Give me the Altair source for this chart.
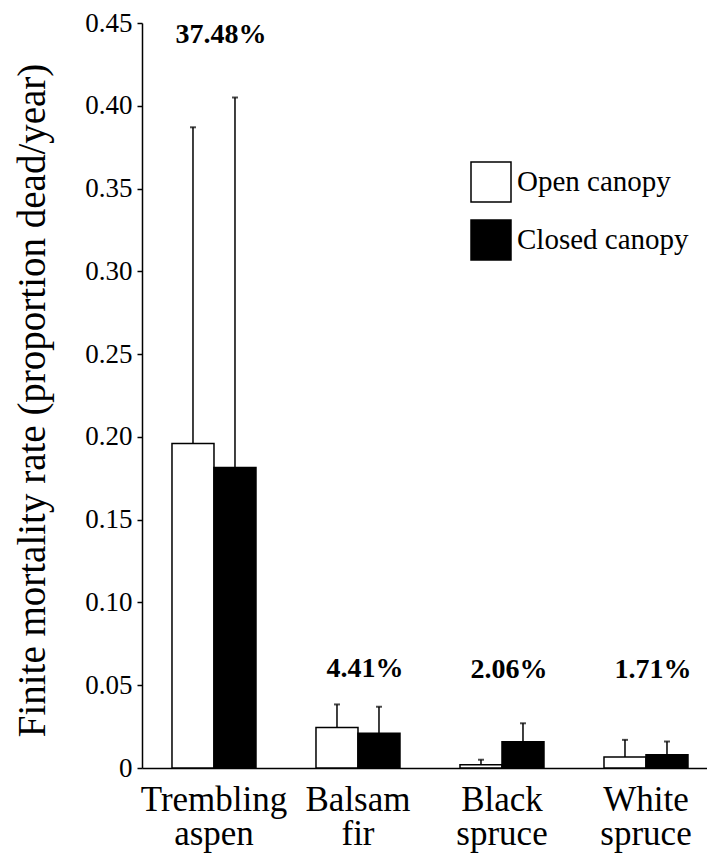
import altair as alt
import pandas as pd

species = ["Trembling aspen", "Balsam fir", "Black spruce", "White spruce"]
canopy = ["Open canopy", "Closed canopy"]

open_mean = [0.196, 0.0244, 0.002, 0.0067]
open_err = [0.387, 0.0384, 0.005, 0.017]
closed_mean = [0.1815, 0.021, 0.0158, 0.008]
closed_err = [0.405, 0.037, 0.027, 0.016]

pct_labels = ["37.48%", "4.41%", "2.06%", "1.71%"]
pct_label_y = [0.443, 0.060, 0.059, 0.059]

y_ticks = [0, 0.05, 0.10, 0.15, 0.20, 0.25, 0.30, 0.35, 0.40, 0.45]

rows = []
for i, s in enumerate(species):
    rows.append({"species": s, "canopy": canopy[0], "value": open_mean[i], "err": open_err[i]})
    rows.append({"species": s, "canopy": canopy[1], "value": closed_mean[i], "err": closed_err[i]})
df = pd.DataFrame(rows)
lab = pd.DataFrame({"species": species, "label": pct_labels, "y": pct_label_y})

FONT = "Liberation Serif"

x_scale = alt.Scale(paddingInner=0.41667, paddingOuter=0.17014, align=0.612)
x_enc = alt.X("species:N", sort=species, scale=x_scale,
              axis=alt.Axis(title=None, labelExpr="split(datum.label, ' ')", labelAngle=0,
                            labelAlign="center",
                            labelFont=FONT, labelFontSize=35, labelLineHeight=34,
                            labelBaseline="top", labelPadding=14, ticks=False,
                            domainColor="black", domainWidth=1.5, labelColor="black",
                            labelLimit=300))
y_scale = alt.Scale(domain=[0, 0.45], nice=False, zero=True)
xoff = alt.XOffset("canopy:N", sort=canopy, scale=alt.Scale(paddingInner=0, paddingOuter=0))

bars = alt.Chart(df).mark_bar(stroke="black", strokeWidth=1.5).encode(
    x=x_enc,
    xOffset=xoff,
    y=alt.Y("value:Q", scale=y_scale,
            axis=alt.Axis(values=y_ticks, title="Finite mortality rate (proportion dead/year)",
                          labelExpr="datum.value == 0 ? '0' : format(datum.value, '.2f')",
                          grid=False, labelFont=FONT, labelFontSize=27, labelColor="black",
                          tickColor="black", tickSize=5, tickWidth=1.5,
                          domainColor="black", domainWidth=1.5, labelPadding=5,
                          titleFont=FONT, titleFontSize=39, titleFontWeight="normal",
                          titleColor="black", titleAngle=270, titleX=-110, titleY=377,
                          titleAlign="center", titleBaseline="middle")),
    fill=alt.Fill("canopy:N", sort=canopy,
                  scale=alt.Scale(domain=canopy, range=["white", "black"]),
                  legend=alt.Legend(title=None, orient="none", legendX=328, legendY=138,
                                    symbolType="square", symbolSize=1600,
                                    symbolStrokeColor="black", symbolStrokeWidth=1.5,
                                    labelFont=FONT, labelFontSize=29, labelColor="black",
                                    labelOffset=5, rowPadding=12, padding=0,
                                    labelLimit=400)),
)

rules = alt.Chart(df).mark_rule(color="black", strokeWidth=1.5).encode(
    x=alt.X("species:N", sort=species, scale=x_scale), xOffset=xoff,
    y=alt.Y("value:Q", scale=y_scale), y2="err:Q")

caps = alt.Chart(df).mark_tick(color="black", thickness=2, size=6).encode(
    x=alt.X("species:N", sort=species, scale=x_scale), xOffset=xoff,
    y=alt.Y("err:Q", scale=y_scale))

texts = alt.Chart(lab).mark_text(font=FONT, fontSize=28, fontWeight="bold", color="black",
                                 baseline="middle", dx=7).encode(
    x=alt.X("species:N", sort=species, scale=x_scale),
    y=alt.Y("y:Q", scale=y_scale),
    text="label:N")

chart = alt.layer(rules, bars, caps, texts).properties(
    width=565, height=745,
    autosize=alt.AutoSizeParams(type="none"),
    padding={"left": 142, "top": 23, "right": 0, "bottom": 95},
).configure(background="white", font=FONT).configure_view(stroke=None)

chart.save("out.html", embed_options={"renderer": "svg", "actions": False})
